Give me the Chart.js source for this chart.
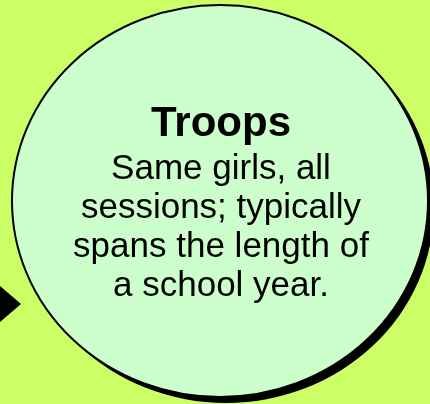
<!DOCTYPE html>
<html>
<head>
<meta charset="utf-8">
<script src="https://cdn.jsdelivr.net/npm/chart.js@4/dist/chart.umd.min.js"></script>
<style>
  html, body { margin: 0; padding: 0; background: #CCFF66; }
  #wrap { width: 430px; height: 404px; position: relative; }
</style>
</head>
<body>
<div id="wrap"><canvas id="c" width="430" height="404"></canvas></div>
<script>
// ---- data (in the diagram's own 430x404 units) ----
const bubbleCenterX = [220];
const bubbleCenterY = [201];
const bubbleRadiusX = [208];
const bubbleRadiusY = [196];
const arrowX = [-6, 21, -6];
const arrowY = [281, 304, 327];
const titleText = 'Troops';
const bodyLines = ['Same girls, all', 'sessions; typically', 'spans the length of', 'a school year.'];

const BG = '#CCFF66';
const FILL = '#CCFFCC';

const bubblePoints = bubbleCenterX.map((x, i) => ({ x, y: bubbleCenterY[i], rx: bubbleRadiusX[i], ry: bubbleRadiusY[i] }));
const arrowPoints = arrowX.map((x, i) => ({ x, y: arrowY[i] }));

const bgPlugin = {
  id: 'bg',
  beforeDraw(chart) {
    const ctx = chart.ctx;
    ctx.save();
    ctx.fillStyle = BG;
    ctx.fillRect(0, 0, chart.width, chart.height);
    ctx.restore();
  }
};

const ellipsePlugin = {
  id: 'ellipses',
  afterDatasetsDraw(chart) {
    const ctx = chart.ctx;
    const xs = chart.scales.x, ys = chart.scales.y;
    chart.data.datasets.forEach((ds, di) => {
      if (ds.kind !== 'ellipse') return;
      const meta = chart.getDatasetMeta(di);
      meta.data.forEach((el, i) => {
        const p = ds.data[i];
        const cx = el.x, cy = el.y;
        const rx = Math.abs(xs.getPixelForValue(p.x + p.rx) - cx);
        const ry = Math.abs(ys.getPixelForValue(p.y + p.ry) - cy);
        ctx.save();
        // drop shadow
        ctx.beginPath();
        ctx.ellipse(cx + 6, cy + 6, rx, ry, 0, 0, Math.PI * 2);
        ctx.fillStyle = '#000';
        ctx.fill();
        // body
        ctx.beginPath();
        ctx.ellipse(cx, cy, rx, ry, 0, 0, Math.PI * 2);
        ctx.fillStyle = FILL;
        ctx.fill();
        ctx.lineWidth = 2;
        ctx.strokeStyle = '#000';
        ctx.stroke();
        // text
        ctx.fillStyle = '#000';
        ctx.textAlign = 'center';
        ctx.textBaseline = 'alphabetic';
        ctx.font = 'bold 42px "Liberation Sans", Arial, sans-serif';
        ctx.fillText(titleText, cx + 1, 136);
        ctx.font = '35px "Liberation Sans", Arial, sans-serif';
        bodyLines.forEach((t, k) => ctx.fillText(t, cx + 1, 179 + k * 39));
        ctx.restore();
      });
    });
  }
};

new Chart(document.getElementById('c'), {
  type: 'scatter',
  data: {
    datasets: [
      {
        label: 'arrow',
        type: 'line',
        data: arrowPoints,
        borderColor: '#000',
        backgroundColor: '#000',
        borderWidth: 0,
        pointRadius: 0,
        fill: 'shape',
        tension: 0,
        clip: false
      },
      {
        label: titleText,
        kind: 'ellipse',
        data: bubblePoints,
        pointRadius: 0,
        pointHoverRadius: 0
      }
    ]
  },
  options: {
    responsive: false,
    animation: false,
    devicePixelRatio: 1,
    layout: { padding: 0 },
    plugins: { legend: { display: false }, tooltip: { enabled: false }, title: { display: false } },
    events: [],
    scales: {
      x: { type: 'linear', min: 0, max: 430, display: false },
      y: { type: 'linear', min: 0, max: 404, reverse: true, display: false }
    }
  },
  plugins: [bgPlugin, ellipsePlugin]
});
</script>
</body>
</html>
